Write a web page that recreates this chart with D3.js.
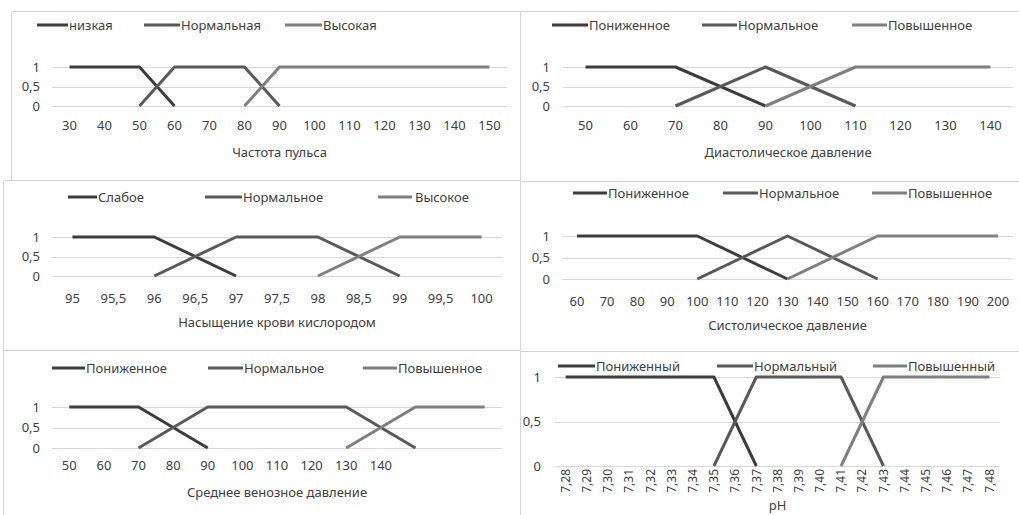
<!DOCTYPE html>
<html>
<head>
<meta charset="utf-8">
<script src="https://cdn.jsdelivr.net/npm/d3@7"></script>
<style>
  html, body { margin: 0; padding: 0; background: #fff; }
  svg { display: block; font-family: "Noto Sans", "Open Sans", sans-serif; }
</style>
</head>
<body>
<svg id="chart" width="1019" height="515"></svg>
<script>
// Membership functions of the input variables (0 / 0,5 / 1), one array per series,
// aligned with the category labels; null = no point at that category.

// Частота пульса
const pulseCategories = ["30","40","50","60","70","80","90","100","110","120","130","140","150"];
const pulseLow    = [1, 1, 1, 0, null, null, null, null, null, null, null, null, null];
const pulseNormal = [null, null, 0, 1, 1, 1, 0, null, null, null, null, null, null];
const pulseHigh   = [null, null, null, null, null, 0, 1, 1, 1, 1, 1, 1, 1];
const pulseNames  = ["низкая", "Нормальная", "Высокая"];

// Диастолическое давление
const diaCategories = ["50","60","70","80","90","100","110","120","130","140"];
const diaLow    = [1, 1, 1, null, 0, null, null, null, null, null];
const diaNormal = [null, null, 0, null, 1, null, 0, null, null, null];
const diaHigh   = [null, null, null, null, 0, null, 1, 1, 1, 1];
const diaNames  = ["Пониженное", "Нормальное", "Повышенное"];

// Насыщение крови кислородом
const spo2Categories = ["95","95,5","96","96,5","97","97,5","98","98,5","99","99,5","100"];
const spo2Low    = [1, 1, 1, null, 0, null, null, null, null, null, null];
const spo2Normal = [null, null, 0, null, 1, 1, 1, null, 0, null, null];
const spo2High   = [null, null, null, null, null, null, 0, null, 1, 1, 1];
const spo2Names  = ["Слабое", "Нормальное", "Высокое"];

// Систолическое давление
const sysCategories = ["60","70","80","90","100","110","120","130","140","150","160","170","180","190","200"];
const sysLow    = [1, 1, 1, 1, 1, null, null, 0, null, null, null, null, null, null, null];
const sysNormal = [null, null, null, null, 0, null, null, 1, null, null, 0, null, null, null, null];
const sysHigh   = [null, null, null, null, null, null, null, 0, null, null, 1, 1, 1, 1, 1];
const sysNames  = ["Пониженное", "Нормальное", "Повышенное"];

// Среднее венозное давление (last three categories carry no label)
const cvpCategories = ["50","60","70","80","90","100","110","120","130","140","","",""];
const cvpLow    = [1, 1, 1, null, 0, null, null, null, null, null, null, null, null];
const cvpNormal = [null, null, 0, null, 1, 1, 1, 1, 1, null, 0, null, null];
const cvpHigh   = [null, null, null, null, null, null, null, null, 0, null, 1, 1, 1];
const cvpNames  = ["Пониженное", "Нормальное", "Повышенное"];

// pH
const phCategories = ["7,28","7,29","7,30","7,31","7,32","7,33","7,34","7,35","7,36","7,37","7,38",
                      "7,39","7,40","7,41","7,42","7,43","7,44","7,45","7,46","7,47","7,48"];
const phLow    = [1, 1, 1, 1, 1, 1, 1, 1, null, 0, null, null, null, null, null, null, null, null, null, null, null];
const phNormal = [null, null, null, null, null, null, null, 0, null, 1, 1, 1, 1, 1, null, 0, null, null, null, null, null];
const phHigh   = [null, null, null, null, null, null, null, null, null, null, null, null, null, 0, null, 1, 1, 1, 1, 1, 1];
const phNames  = ["Пониженный", "Нормальный", "Повышенный"];

const yTicks = [0, 0.5, 1];

// Series styling shared by every panel
const seriesColors = ["#3c3c3c", "#595959", "#7f7f7f"];
const textColor = "#404040";
const gridColor = "#d9d9d9";
const borderColor = "#d4d4d4";

// Panel geometry
const panels = [
  { title: "Частота пульса", cats: pulseCategories, series: [pulseLow, pulseNormal, pulseHigh], names: pulseNames,
    x0: 52, x1: 507, yTop: 67, yBot: 106, yLabelRight: 40, legendY: 25,
    legend: [[37, 68], [144, 180], [285, 322]], tickY: 125, titleY: 152 },
  { title: "Диастолическое давление", cats: diaCategories, series: [diaLow, diaNormal, diaHigh], names: diaNames,
    x0: 563, x1: 1013, yTop: 67, yBot: 106, yLabelRight: 550, legendY: 25,
    legend: [[552, 588], [702, 737], [852, 887]], tickY: 125, titleY: 152 },
  { title: "Насыщение крови кислородом", cats: spo2Categories, series: [spo2Low, spo2Normal, spo2High], names: spo2Names,
    x0: 52, x1: 502, yTop: 237, yBot: 276, yLabelRight: 40, legendY: 197,
    legend: [[68, 97], [205, 242], [378, 412, 415]], tickY: 298, titleY: 322 },
  { title: "Систолическое давление", cats: sysCategories, series: [sysLow, sysNormal, sysHigh], names: sysNames,
    x0: 562, x1: 1013, yTop: 236, yBot: 279, yLabelRight: 550, legendY: 193,
    legend: [[573, 607], [723, 758], [872, 907]], tickY: 301, titleY: 325 },
  { title: "Среднее  венозное давление", cats: cvpCategories, series: [cvpLow, cvpNormal, cvpHigh], names: cvpNames,
    x0: 52, x1: 502, yTop: 407, yBot: 448, yLabelRight: 40, legendY: 368,
    legend: [[52, 85], [208, 243], [363, 397]], tickY: 465, titleY: 492 },
  { title: "pH", cats: phCategories, series: [phLow, phNormal, phHigh], names: phNames,
    x0: 555, x1: 1000, yTop: 377, yBot: 466, yLabelRight: 541, legendY: 366,
    legend: [[558, 595], [717, 753], [873, 907]], tickY: 469, titleY: 505, rotated: true }
];

const svg = d3.select("#chart");

// Panel frames
const frame = svg.append("g").attr("stroke", borderColor).attr("stroke-width", 1).attr("shape-rendering", "crispEdges");
[[11, 11, 1019, 11], [11, 11, 11, 180], [3, 180, 520, 180], [520, 181, 1019, 181],
 [3, 350, 520, 350], [520, 351, 1019, 351], [3, 180, 3, 515], [520, 11, 520, 515]]
  .forEach(([a, b, c, d]) => frame.append("line").attr("x1", a + 0.5).attr("y1", b + 0.5).attr("x2", c + 0.5).attr("y2", d + 0.5));

panels.forEach(p => {
  const g = svg.append("g");
  const x = d3.scaleBand().domain(d3.range(p.cats.length)).range([p.x0, p.x1]).padding(0);
  const y = d3.scaleLinear().domain([0, 1]).range([p.yBot, p.yTop]);
  const cx = i => x(i) + x.bandwidth() / 2;

  // Horizontal gridlines
  g.append("g").selectAll("line").data(yTicks).join("line")
    .attr("x1", p.x0).attr("x2", p.x1)
    .attr("y1", d => Math.round(y(d)) + 0.5).attr("y2", d => Math.round(y(d)) + 0.5)
    .attr("stroke", gridColor).attr("stroke-width", 1);

  // Value axis
  const yAxis = g.append("g").attr("transform", `translate(${p.yLabelRight},0)`)
    .call(d3.axisLeft(y).tickValues(yTicks).tickSize(0).tickPadding(0)
      .tickFormat(v => String(v).replace(".", ",")));
  yAxis.select(".domain").remove();
  yAxis.selectAll("text").attr("fill", textColor).style("font-size", "13px")
    .style("font-family", "'Noto Sans', sans-serif");

  // Category axis
  if (!p.rotated) {
    const xAxis = g.append("g").attr("transform", `translate(0,${p.yBot})`)
      .call(d3.axisBottom(x).tickSize(0).tickPadding(p.tickY - p.yBot - 4.6)
        .tickFormat(i => p.cats[i]));
    xAxis.select(".domain").remove();
    xAxis.selectAll("text").attr("fill", textColor).style("font-size", "13px")
      .style("font-family", "'Noto Sans', sans-serif");
  } else {
    const xAxis = g.append("g").attr("transform", `translate(0,${p.yBot})`)
      .call(d3.axisBottom(x).tickSize(0).tickFormat(i => p.cats[i]));
    xAxis.select(".domain").remove();
    xAxis.selectAll("text")
      .attr("fill", textColor).style("font-size", "12px")
      .style("font-family", "'Noto Sans', sans-serif")
      .attr("text-anchor", "end").attr("x", 0).attr("y", 0).attr("dy", "0.35em")
      .attr("transform", `translate(0,${p.tickY - p.yBot}) rotate(-90)`);
  }

  // Axis title
  g.append("text")
    .attr("x", (p.x0 + p.x1) / 2).attr("y", p.titleY).attr("dy", "0.35em")
    .attr("text-anchor", "middle").attr("fill", textColor).style("font-size", "13px")
    .text(p.title);

  // Series lines through the defined points
  const line = d3.line().x(d => cx(d.i)).y(d => y(d.v));
  p.series.forEach((vals, s) => {
    const pts = vals.map((v, i) => ({ i, v })).filter(d => d.v !== null);
    g.append("path").datum(pts)
      .attr("d", line).attr("fill", "none")
      .attr("stroke", seriesColors[s]).attr("stroke-width", 3)
      .attr("stroke-linejoin", "round");
  });

  // Legend
  p.legend.forEach((L, s) => {
    g.append("line").attr("x1", L[0]).attr("x2", L[1])
      .attr("y1", p.legendY).attr("y2", p.legendY)
      .attr("stroke", seriesColors[s]).attr("stroke-width", 3);
    g.append("text").attr("x", L[2] !== undefined ? L[2] : L[1] + 1).attr("y", p.legendY).attr("dy", "0.35em")
      .attr("fill", textColor).style("font-size", "13px").text(p.names[s]);
  });
});
</script>
</body>
</html>
